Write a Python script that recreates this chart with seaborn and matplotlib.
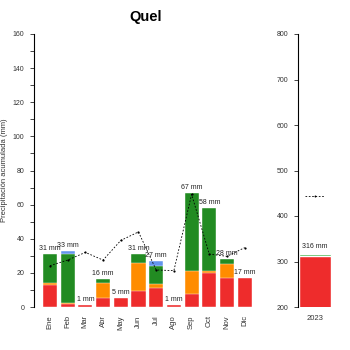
import numpy as np
import pandas as pd
import matplotlib
matplotlib.use("Agg")
import matplotlib.pyplot as plt
import seaborn as sns
from matplotlib.ticker import MultipleLocator

sns.set_style("white")
plt.rcParams["font.family"] = ["Liberation Sans", "DejaVu Sans"]

months = ["Ene", "Feb", "Mar", "Abr", "May", "Jun", "Jul", "Ago", "Sep", "Oct", "Nov", "Dic"]
rain_red = [13, 1.5, 1.2, 5.5, 5, 9.5, 11, 1, 7.5, 20, 17, 16.8]
rain_orange = [1, 1, 0, 8.5, 0, 16, 2.5, 0, 13.5, 1, 8, 0]
rain_green = [17, 28.5, 0, 2.4, 0, 5.5, 10.5, 0, 46, 37, 3, 0]
rain_blue = [0, 2, 0, 0, 0, 0, 3, 0, 0, 0, 0, 0]
normal_monthly = [24.2, 27.5, 32, 27.5, 39, 44, 21.7, 21.3, 66, 31, 29.7, 34.8]

year_label = ["2023"]
year_red = [313]
year_green = [3]
normal_annual = [444]

C_RED = "#EE2C2C"
C_ORANGE = "#FF8C00"
C_GREEN = "#228B22"
C_BLUE = "#6495ED"
TXT = "#333333"

df = pd.DataFrame({"mes": months, "r": rain_red, "o": rain_orange,
                   "g": rain_green, "b": rain_blue})
df["c1"] = df["r"]
df["c2"] = df["c1"] + df["o"]
df["c3"] = df["c2"] + df["g"]
df["c4"] = df["c3"] + df["b"]

fig = plt.figure(figsize=(3.5, 3.5), dpi=100)
ax = fig.add_axes([34 / 350, 43 / 350, 224 / 350, 273 / 350])
ax2 = fig.add_axes([298 / 350, 43 / 350, 34 / 350, 273 / 350])

# stacked monthly bars: draw cumulative layers from the top down
for col, c in [("c4", C_BLUE), ("c3", C_GREEN), ("c2", C_ORANGE), ("c1", C_RED)]:
    sns.barplot(data=df, x="mes", y=col, color=c, saturation=1, width=0.8,
                edgecolor="white", linewidth=0.3, ax=ax, order=months)

for i, tot in enumerate(df["c4"]):
    ax.annotate(f"{round(tot):.0f} mm", (i, tot), xytext=(0, 1.5),
                textcoords="offset points", ha="center", va="bottom",
                fontsize=5, color="#222222")

sns.lineplot(x=np.arange(len(months)), y=normal_monthly, ax=ax, color="black",
             linewidth=0.6, linestyle=(0, (2, 2)), marker="o", markersize=1.6,
             markeredgewidth=0)

ax.set_ylim(0, 160)
ax.set_xlim(-0.9, 11.75)
ax.yaxis.set_major_locator(MultipleLocator(20))
ax.yaxis.set_minor_locator(MultipleLocator(10))
ax.tick_params(axis="y", which="major", length=3, width=0.6, labelsize=5,
               labelcolor=TXT, left=True, pad=4)
ax.tick_params(axis="y", which="minor", length=3, width=0.6, left=True)
ax.tick_params(axis="x", length=0, labelsize=5.5, labelcolor=TXT,
               rotation=90, pad=6)
ax.set_xlabel("")
ax.set_ylabel("Precipitación acumulada (mm)", fontsize=5.5, color=TXT,
              labelpad=3)
for s in ["top", "right", "bottom"]:
    ax.spines[s].set_visible(False)
ax.spines["left"].set_color("black")
ax.spines["left"].set_linewidth(0.8)
ax.set_title("Quel", fontsize=10.5, fontweight="bold", pad=9, color="black")

# annual total panel
dfy = pd.DataFrame({"anio": year_label, "r": year_red, "g": year_green})
dfy["tot"] = dfy["r"] + dfy["g"]
sns.barplot(data=dfy, x="anio", y="tot", color="#3CB043", saturation=1,
            width=0.95, ax=ax2)
sns.barplot(data=dfy, x="anio", y="r", color=C_RED, saturation=1,
            width=0.95, ax=ax2)
for i, tot in enumerate(dfy["tot"]):
    ax2.annotate(f"{round(tot):.0f} mm", (i, tot), xytext=(0, 3),
                 textcoords="offset points", ha="center", va="bottom",
                 fontsize=5, color="#222222")
sns.lineplot(x=[-0.3, 0.3], y=normal_annual * 2, ax=ax2, color="black",
             linewidth=0.6, linestyle=(0, (2, 2)))
sns.scatterplot(x=[0], y=normal_annual, ax=ax2, color="black", s=2,
                linewidth=0)
ax2.set_xlim(-0.5, 0.5)
ax2.set_ylim(200, 800)
ax2.yaxis.set_major_locator(MultipleLocator(100))
ax2.tick_params(axis="y", length=3, width=0.6, labelsize=5,
                labelcolor=TXT, left=True, pad=4)
ax2.tick_params(axis="x", length=0, labelsize=5.5, labelcolor=TXT, pad=6)
ax2.set_xlabel("")
ax2.set_ylabel("")
for s in ["top", "right", "bottom"]:
    ax2.spines[s].set_visible(False)
ax2.spines["left"].set_color("black")
ax2.spines["left"].set_linewidth(0.8)

fig.savefig("out.png", dpi=100, facecolor="white")
